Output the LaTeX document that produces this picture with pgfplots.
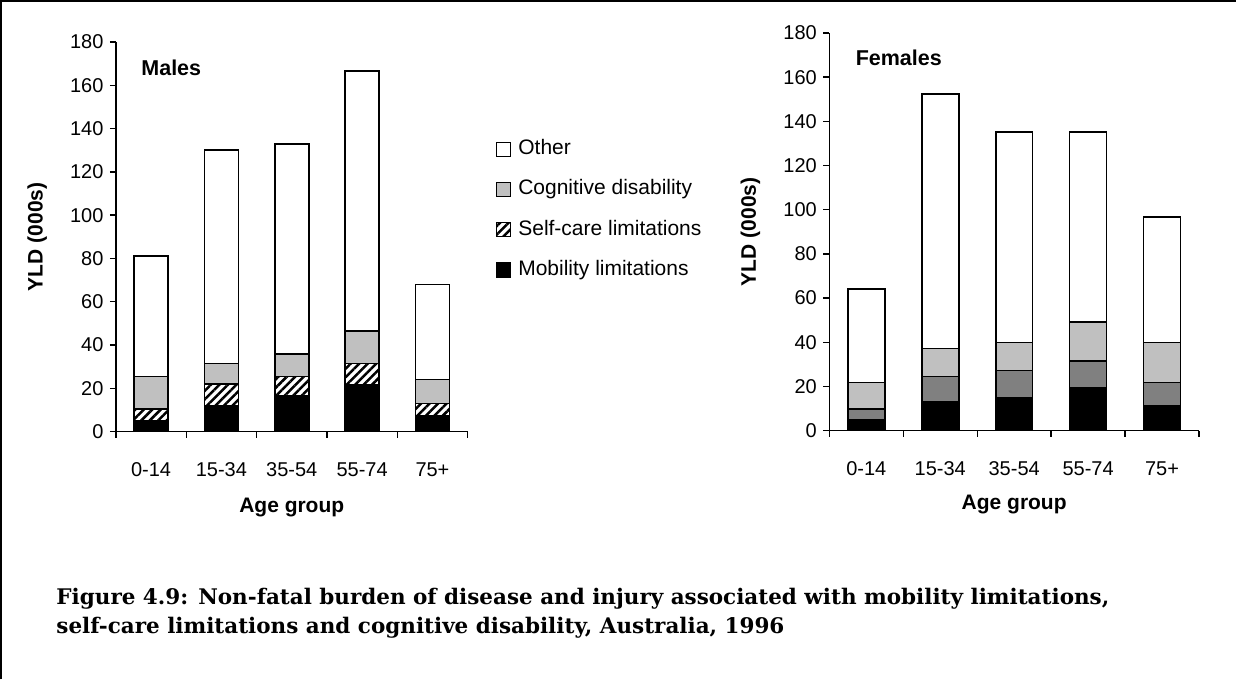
\documentclass[border=0pt]{standalone}
\usepackage{fontspec}
\setmainfont{Liberation Sans}
\newfontfamily\capfont{DejaVu Serif}
\usepackage{pgfplots}
\pgfplotsset{compat=1.18}
\usetikzlibrary{patterns.meta}
\definecolor{lgray}{RGB}{192,192,192}
\definecolor{dgray}{RGB}{128,128,128}
\pgfplotsset{
  mystyle/.style={
    scale only axis, ybar stacked,
    xmin=0, xmax=5, ymin=0, ymax=180,
    ytick={0,20,...,180},
    axis x line*=bottom, axis y line*=left,
    axis line style={-, line width=1.4pt},
    xtick={0.5,1.5,2.5,3.5,4.5},
    xticklabels={0-14,15-34,35-54,55-74,75+},
    major x tick style={draw=none},
    minor xtick={0,1,2,3,4,5},
    tick align=outside,
    major tick length=6pt, minor tick length=6pt,
    tick style={line width=1.4pt, black},
    ticklabel style={font=\fontsize{20}{22}\selectfont},
    /pgf/number format/assume math mode=true,
    xticklabel style={anchor=base, yshift=-39pt},
    yticklabel style={xshift=-3pt},
    ylabel={YLD (000s)},
    xlabel={Age group},
    ylabel style={font=\bfseries\fontsize{21}{24}\selectfont},
    xlabel style={font=\bfseries\fontsize{21}{24}\selectfont},
    bs/.style={draw=black, line width=1.6pt},
  }
}
\begin{document}
\begin{tikzpicture}
\path (0,0) rectangle (1237pt,680pt);
\draw[line width=2pt] (1pt,0pt) -- (1pt,679pt) -- (1237pt,679pt);
\begin{axis}[mystyle, at={(116pt,248pt)}, anchor=south west,
  width=352pt, height=390pt, bar width=34pt,
  ylabel style={at={(axis description cs:-0.224,0.5)}, anchor=center},
  xlabel style={at={(axis description cs:0.5,-0.195)}, anchor=center},
  reverse legend,
  legend style={draw=none, at={(1.08,0.755)}, anchor=north west, inner sep=0pt,
    font=\fontsize{21}{24}\selectfont, row sep=17.3pt,
    nodes={text height=15pt, text depth=4pt, inner sep=2pt}},
  legend cell align=left,
  legend image code/.code={\draw[#1, line width=1.2pt] (0pt,-7pt) rectangle (14pt,7pt); \path (19pt,0pt);},
]
\addplot[bs, fill=black] coordinates {(0.5,5) (1.5,12) (2.5,16.5) (3.5,21.5) (4.5,7.5)};
\addplot[bs, fill=white, pattern={Lines[angle=45,distance=6pt,line width=2.5pt]}, pattern color=black] coordinates {(0.5,5.5) (1.5,10) (2.5,9) (3.5,10) (4.5,5.5)};
\addplot[bs, fill=lgray] coordinates {(0.5,15) (1.5,9.5) (2.5,10.5) (3.5,15) (4.5,11)};
\addplot[bs, fill=white] coordinates {(0.5,55.5) (1.5,98.5) (2.5,97) (3.5,120) (4.5,44)};
\legend{Mobility limitations, Self-care limitations, Cognitive disability, Other}
\node[anchor=west, font=\bfseries\fontsize{21.5}{24}\selectfont] at (rel axis cs:0.0625,0.933) {Males};
\end{axis}
\begin{axis}[mystyle, at={(830pt,249pt)}, anchor=south west,
  width=370pt, height=398pt, bar width=37pt,
  ylabel style={at={(axis description cs:-0.2135,0.5)}, anchor=center},
  xlabel style={at={(axis description cs:0.5,-0.186)}, anchor=center},
]
\addplot[bs, fill=black] coordinates {(0.5,5) (1.5,13) (2.5,14.8) (3.5,19.6) (4.5,11.4)};
\addplot[bs, fill=dgray] coordinates {(0.5,4.8) (1.5,11.6) (2.5,12.5) (3.5,11.9) (4.5,10.4)};
\addplot[bs, fill=lgray] coordinates {(0.5,12) (1.5,12.6) (2.5,12.6) (3.5,17.6) (4.5,18.1)};
\addplot[bs, fill=white] coordinates {(0.5,42.4) (1.5,115.3) (2.5,95.3) (3.5,86) (4.5,56.9)};
\node[anchor=west, font=\bfseries\fontsize{21.5}{24}\selectfont] at (rel axis cs:0.062,0.937) {Females};
\end{axis}
\node[anchor=base west, font=\capfont\bfseries\fontsize{21.5}{28}\selectfont] at (53pt,75pt) {Figure 4.9: Non-fatal burden of disease and injury associated with mobility limitations,};
\node[anchor=base west, font=\capfont\bfseries\fontsize{21.5}{28}\selectfont] at (53pt,46pt) {self-care limitations and cognitive disability, Australia, 1996};
\end{tikzpicture}
\end{document}
